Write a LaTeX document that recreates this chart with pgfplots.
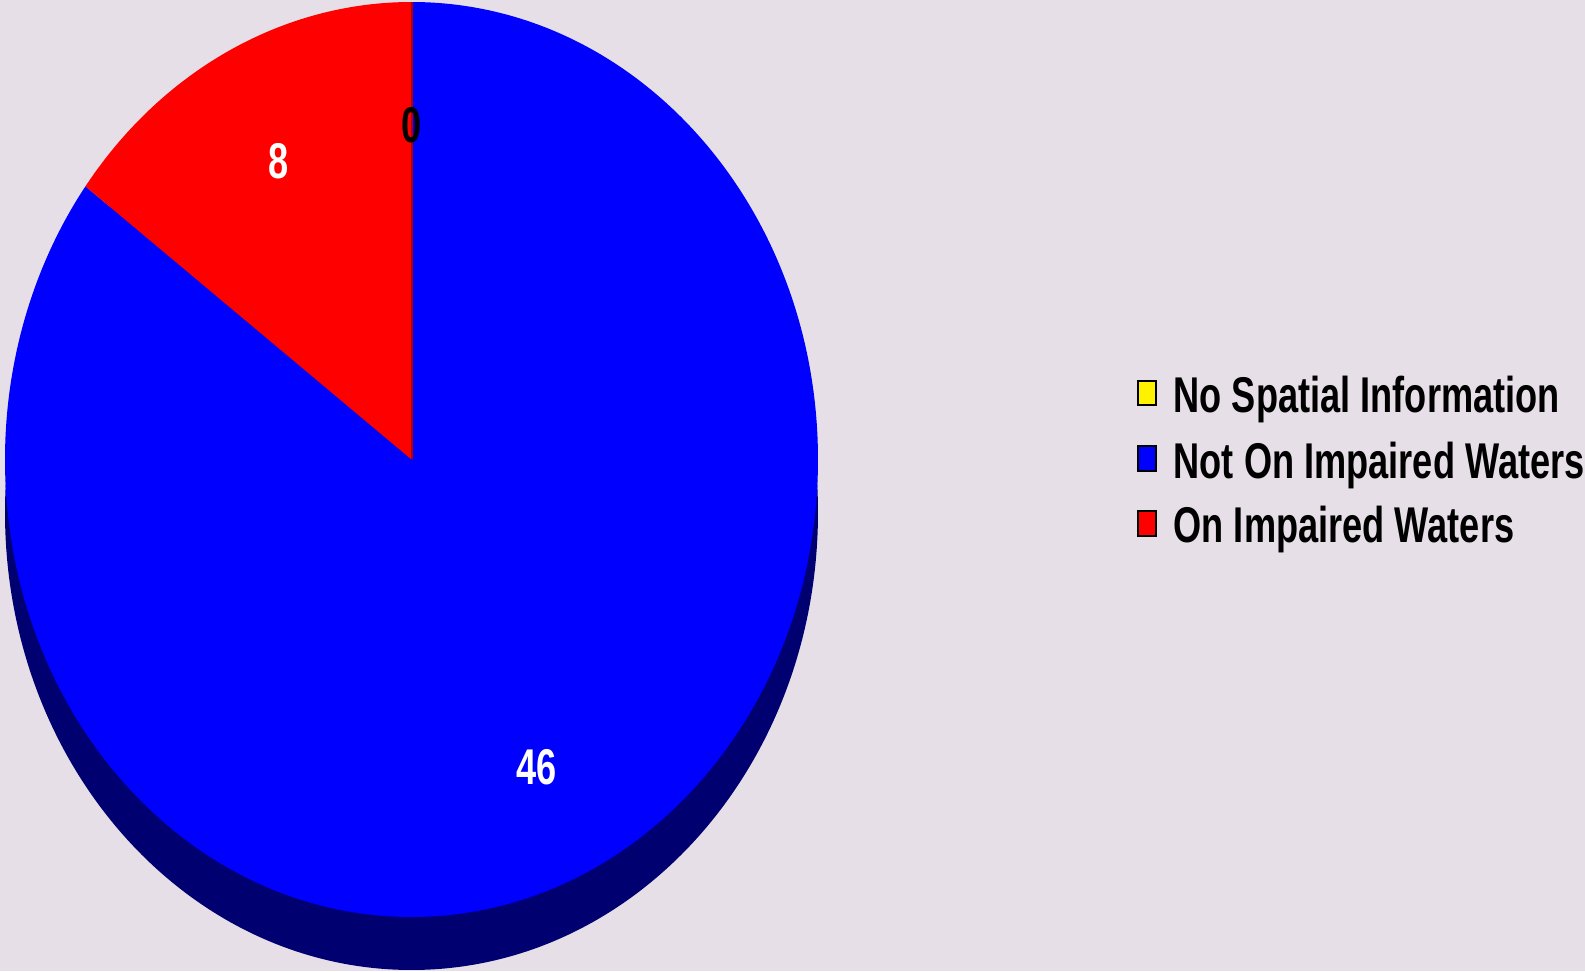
\documentclass[border=0pt]{standalone}
\usepackage{pgfplots}
\pgfplotsset{compat=1.18}
\usepackage{pgfplotstable}
\usepackage{fontspec}
\newfontfamily\chartfont{Liberation Sans}[FakeStretch=0.72]
\definecolor{bgc}{RGB}{231,223,231}
\definecolor{navyc}{RGB}{0,0,112}
\definecolor{sepc}{RGB}{170,0,0}
\begin{document}
\begin{tikzpicture}
\pgfplotstableread[col sep=comma]{
label,value
No Spatial Information,0
Not On Impaired Waters,46
On Impaired Waters,8
}\piedata
\pgfplotstablegetelem{0}{value}\of\piedata \let\vA\pgfplotsretval
\pgfplotstablegetelem{1}{value}\of\piedata \let\vB\pgfplotsretval
\pgfplotstablegetelem{2}{value}\of\piedata \let\vC\pgfplotsretval
\pgfmathsetmacro\tot{\vA+\vB+\vC}
\pgfmathsetmacro\aA{90}
\pgfmathsetmacro\aB{\aA-360*(\vA/\tot)}
\pgfmathsetmacro\aC{\aB-360*(\vB/\tot)}
\pgfmathsetmacro\aD{\aC-360*(\vC/\tot)}
\pgfmathsetmacro\mA{(\aA+\aB)/2}
\pgfmathsetmacro\mB{(\aB+\aC)/2}
\pgfmathsetmacro\mC{(\aC+\aD)/2}
\def\cx{411.5}\def\cy{511.5}\def\rx{406.5}\def\ry{457.5}\def\lr{0.73}
\begin{axis}[
  x=0.1mm, y=0.1mm,
  xmin=0, xmax=1585, ymin=0, ymax=971,
  hide axis, clip=false,
]
\fill[bgc] (rel axis cs:0,0) rectangle (rel axis cs:1,1);
% shadow (bottom face)
\fill[navyc] (axis cs:\cx,458.5) ellipse [x radius=40.65mm, y radius=45.75mm];
% blue slice
\fill[blue] (axis cs:\cx,\cy) -- (axis cs:{\cx+\rx*cos(\aB)},{\cy+\ry*sin(\aB)})
   arc[start angle=\aB, end angle=\aC, x radius=40.65mm, y radius=45.75mm] -- cycle;
% red slice
\fill[red] (axis cs:\cx,\cy) -- (axis cs:{\cx+\rx*cos(\aC)},{\cy+\ry*sin(\aC)})
   arc[start angle=\aC, end angle=\aD, x radius=40.65mm, y radius=45.75mm] -- cycle;
% zero slice (yellow, empty) separator
\draw[sepc, line width=0.2mm] (axis cs:\cx,\cy) -- (axis cs:{\cx+\rx*cos(\aA)},{\cy+\ry*sin(\aA)});
% value labels
\node[inner sep=0, text=black, font=\chartfont\bfseries\fontsize{14.3}{17}\selectfont]
  at (axis cs:{\cx+\lr*\rx*cos(\mA)},{\cy+\lr*\ry*sin(\mA)}) {\vA};
\node[inner sep=0, text=white, font=\chartfont\bfseries\fontsize{14.3}{17}\selectfont]
  at (axis cs:{\cx+\lr*\rx*cos(\mB)-8},{\cy+\lr*\ry*sin(\mB)-9}) {\vB};
\node[inner sep=0, text=white, font=\chartfont\bfseries\fontsize{14.3}{17}\selectfont]
  at (axis cs:{\cx+\lr*\rx*cos(\mC)},{\cy+\lr*\ry*sin(\mC)}) {\vC};
% legend
\draw[fill=yellow, draw=black, line width=0.25mm] (axis cs:1138,566) rectangle (axis cs:1156,590);
\draw[fill=blue, draw=black, line width=0.25mm] (axis cs:1138,500) rectangle (axis cs:1156,525);
\draw[fill=red, draw=black, line width=0.25mm] (axis cs:1138,435) rectangle (axis cs:1156,460);
\node[anchor=base west, inner sep=0, font=\chartfont\bfseries\fontsize{14.3}{17}\selectfont] at (axis cs:1173,558) {No Spatial Information};
\node[anchor=base west, inner sep=0, font=\chartfont\bfseries\fontsize{14.3}{17}\selectfont] at (axis cs:1173,493) {Not On Impaired Waters};
\node[anchor=base west, inner sep=0, font=\chartfont\bfseries\fontsize{14.3}{17}\selectfont] at (axis cs:1173,428) {On Impaired Waters};
\end{axis}
\end{tikzpicture}
\end{document}
